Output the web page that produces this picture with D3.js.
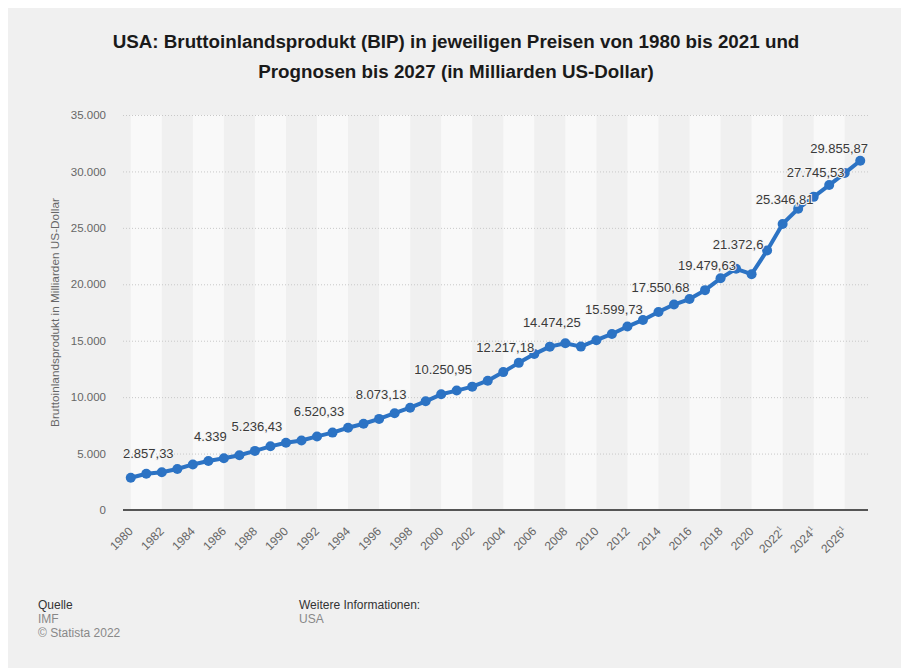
<!DOCTYPE html>
<html>
<head>
<meta charset="utf-8">
<script src="https://cdn.jsdelivr.net/npm/d3@7"></script>
<style>
  html, body { margin: 0; padding: 0; background: #ffffff; }
  svg { display: block; font-family: "Liberation Sans", Arial, Helvetica, sans-serif; }
</style>
</head>
<body>
<svg id="chart" width="903" height="668"></svg>
<script>
// ---- data ----
const years = [1980,1981,1982,1983,1984,1985,1986,1987,1988,1989,
               1990,1991,1992,1993,1994,1995,1996,1997,1998,1999,
               2000,2001,2002,2003,2004,2005,2006,2007,2008,2009,
               2010,2011,2012,2013,2014,2015,2016,2017,2018,2019,
               2020,2021,2022,2023,2024,2025,2026,2027];
const gdp = [2857.33,3207.03,3343.8,3634.03,4037.65,4339,4579.63,4855.25,5236.43,5641.6,
             5963.13,6158.13,6520.33,6858.55,7287.25,7639.75,8073.13,8577.55,9062.83,9631.18,
             10250.95,10581.93,10929.1,11456.45,12217.18,13039.2,13815.58,14474.25,14769.85,14478.05,
             15048.98,15599.73,16253.95,16843.23,17550.68,18206.03,18695.1,19479.63,20527.15,21372.6,
             20893.75,22996.1,25346.81,26694.71,27745.53,28790.0,29855.87,30951.0];
const forecastYears = [2022,2023,2024,2025,2026,2027];
const labeledYears = [1980,1985,1988,1992,1996,2000,2004,2007,2011,2014,2017,2019,2022,2024,2026];
const yTicks = [0,5000,10000,15000,20000,25000,30000,35000];
const xTickYears = [1980,1982,1984,1986,1988,1990,1992,1994,1996,1998,2000,2002,2004,2006,2008,
                    2010,2012,2014,2016,2018,2020,2022,2024,2026];

const titleLines = ["USA: Bruttoinlandsprodukt (BIP) in jeweiligen Preisen von 1980 bis 2021 und",
                    "Prognosen bis 2027 (in Milliarden US-Dollar)"];
const yAxisTitle = "Bruttoinlandsprodukt in Milliarden US-Dollar";

// ---- layout ----
const svg = d3.select("#chart");
const W = 903, H = 668;
const plot = {left: 123, right: 868, top: 115, bottom: 510};

const deFmt = d3.formatLocale({decimal: ",", thousands: ".", grouping: [3], currency: ["", "$"]});
const fmtTick = deFmt.format(",.0f");
const fmtVal = v => {
  const s = deFmt.format(",.2f")(v);
  return s.replace(/,?0+$/, "");
};

svg.append("rect").attr("x", 8).attr("y", 8).attr("width", W - 10).attr("height", H - 8).attr("fill", "#f0f0f0");

const x = d3.scaleBand().domain(years).range([plot.left, plot.right]).padding(0);
const xc = yr => x(yr) + x.bandwidth() / 2;
const y = d3.scaleLinear().domain([0, 35000]).range([plot.bottom, plot.top]);

// stripes (2-year bands)
const bandStarts = years.filter((yr, i) => i % 4 === 0);
svg.append("g").selectAll("rect").data(bandStarts).join("rect")
  .attr("x", d => xc(d))
  .attr("y", plot.top)
  .attr("width", d => Math.min(xc(d) + 2 * x.bandwidth(), plot.right) - xc(d))
  .attr("height", plot.bottom - plot.top)
  .attr("fill", "#f9f9f9");

// gridlines
svg.append("g").selectAll("line").data(yTicks.filter(t => t > 0)).join("line")
  .attr("x1", plot.left).attr("x2", plot.right)
  .attr("y1", d => y(d) + 0.5).attr("y2", d => y(d) + 0.5)
  .attr("stroke", "#c8c8c8").attr("stroke-width", 1).attr("stroke-dasharray", "1,2");

// y axis
const yAxis = d3.axisLeft(y).tickValues(yTicks).tickFormat(fmtTick).tickSize(0).tickPadding(0);
const gy = svg.append("g").attr("transform", `translate(106,0)`).call(yAxis);
gy.select(".domain").remove();
gy.selectAll("text").attr("font-size", 11.5).attr("fill", "#666").attr("font-family", "Liberation Sans, Arial, sans-serif");

// y title
svg.append("text")
  .attr("transform", `translate(59,${(plot.top + plot.bottom) / 2}) rotate(-90)`)
  .attr("text-anchor", "middle")
  .attr("font-size", 11.8).attr("fill", "#666")
  .text(yAxisTitle);

// x axis
const xAxis = d3.axisBottom(x).tickValues(xTickYears).tickSize(0).tickPadding(0)
  .tickFormat(d => d);
const gx = svg.append("g").attr("transform", `translate(0,${plot.bottom})`).call(xAxis);
gx.select(".domain").remove();
gx.selectAll(".tick text").each(function(d) {
  const t = d3.select(this);
  t.text(null);
  t.attr("text-anchor", "end").attr("font-size", 12).attr("fill", "#666")
   .attr("font-family", "Liberation Sans, Arial, sans-serif")
   .attr("dy", null).attr("y", null)
   .attr("transform", "translate(3,22) rotate(-45)");
  t.append("tspan").text(d);
  if (forecastYears.includes(d)) {
    t.append("tspan").attr("font-size", 7).attr("dy", -5).text("1");
  }
});

svg.append("line")
  .attr("x1", plot.left).attr("x2", plot.right)
  .attr("y1", plot.bottom).attr("y2", plot.bottom)
  .attr("stroke", "#555").attr("stroke-width", 2);

// line
const pts = years.map((yr, i) => ({yr, v: gdp[i]}));
const lineGen = d3.line().x(d => xc(d.yr)).y(d => y(d.v));
svg.append("path").datum(pts).attr("d", lineGen)
  .attr("fill", "none").attr("stroke", "#2c73c4").attr("stroke-width", 4)
  .attr("stroke-linejoin", "round").attr("stroke-linecap", "round");
svg.append("g").selectAll("circle").data(pts).join("circle")
  .attr("cx", d => xc(d.yr)).attr("cy", d => y(d.v)).attr("r", 5)
  .attr("fill", "#2c73c4");

// value labels
const lbl = svg.append("g").selectAll("text").data(pts.filter(d => labeledYears.includes(d.yr))).join("text")
  .attr("x", d => xc(d.yr) + 2)
  .attr("y", d => y(d.v) - 20)
  .attr("text-anchor", "middle")
  .attr("font-size", 13).attr("fill", "#3a3a3a")
  .attr("stroke", "#f4f4f4").attr("stroke-width", 2).attr("paint-order", "stroke")
  .text(d => fmtVal(d.v));
lbl.each(function() {
  const w = this.getComputedTextLength();
  const cx = +d3.select(this).attr("x");
  let nx = cx;
  if (cx - w / 2 < plot.left) nx = plot.left + w / 2;
  if (cx + w / 2 > plot.right) nx = plot.right - w / 2;
  d3.select(this).attr("x", nx);
});

// title
svg.append("g").selectAll("text").data(titleLines).join("text")
  .attr("x", 456).attr("y", (d, i) => 48 + i * 30)
  .attr("text-anchor", "middle")
  .attr("font-size", 18.8).attr("font-weight", "bold").attr("fill", "#1a1a1a")
  .text(d => d);

// footer
const foot = svg.append("g").attr("font-size", 12);
foot.append("text").attr("x", 38).attr("y", 609).attr("fill", "#333").text("Quelle");
foot.append("text").attr("x", 38).attr("y", 623).attr("fill", "#888").text("IMF");
foot.append("text").attr("x", 38).attr("y", 637).attr("fill", "#888").text("© Statista 2022");
foot.append("text").attr("x", 299).attr("y", 609).attr("fill", "#333").text("Weitere Informationen:");
foot.append("text").attr("x", 299).attr("y", 623).attr("fill", "#888").text("USA");
</script>
</body>
</html>
